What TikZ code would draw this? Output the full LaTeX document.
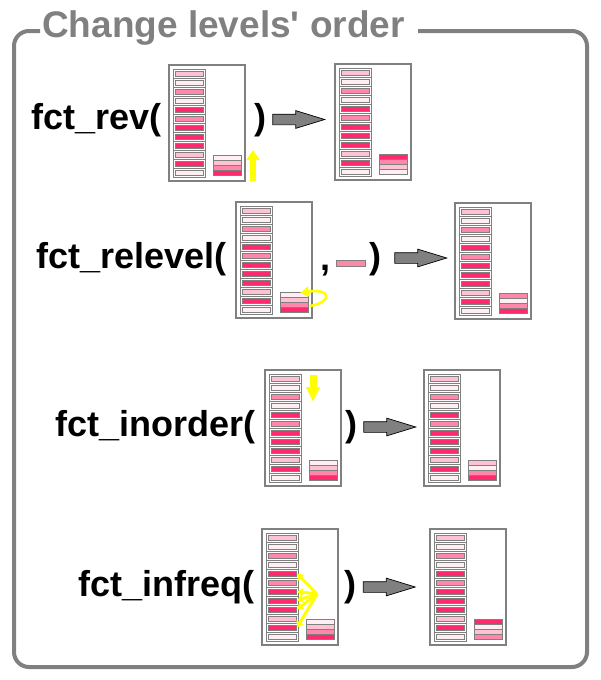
\documentclass[tikz,border=0pt]{standalone}
\usepackage{fontspec}
\setmainfont{Liberation Sans}
\usetikzlibrary{arrows.meta,shapes.arrows}
\definecolor{LevA}{HTML}{FFEEF2}
\definecolor{LevB}{HTML}{FFC2D4}
\definecolor{LevC}{HTML}{FF88AA}
\definecolor{LevD}{HTML}{FF2A6E}
\definecolor{FrameGray}{HTML}{808080}
\definecolor{HiYellow}{HTML}{FFFF00}
\tikzset{>=Stealth,fname/.style={font=\bfseries\fontsize{36}{40}\selectfont,inner sep=0,
 anchor=base west},fbox/.style={draw=FrameGray,line width=1.5,minimum width=76,
 minimum height=116,inner sep=0},cell/.style={draw=FrameGray,line width=0.8},
 garrow/.style={single arrow,draw=black,line width=0.7,fill=FrameGray,minimum height=52,
 inner sep=0,inner ysep=5,single arrow head extend=3.5,single arrow tip angle=34},
 yarrow/.style={draw=HiYellow,line width=#1}}
% one factor box: name, top-left corner, order of the level key
\newcommand\FactorBox[3]{\begin{scope}[shift={#2}]
 \node[fbox] (#1) at (38,58) {};
 \foreach \lv [count=\k from 0] in {B,A,C,A,D,C,D,D,D,B,D,A}{
  \draw[cell,fill=white] (4.3,4+9*\k) rectangle ++(32.4,9);
  \draw[cell,fill=Lev\lv] (6.3,6+9*\k) rectangle ++(28.4,5);}
 \foreach \lv [count=\k from 0] in {#3}
  \draw[cell,fill=Lev\lv] (44.3,90+5*\k) rectangle ++(28.4,5);
 \end{scope}}

\begin{document}
\begin{tikzpicture}[x=1pt,y=-1pt]
\useasboundingbox (0,0) rectangle (600,680);
\draw[FrameGray,line width=4,rounded corners=15] (40,31) -| (14,667) -| (587,31) -- (418,31);
\node[fname,text=FrameGray,font=\bfseries\fontsize{37}{40}\selectfont] (title) at (42,37) {Change levels\textquotesingle{} order};
% fct_rev
\node[fname] (rev) at (31,129) {fct\_rev(};
\FactorBox{rev in}{(169,65)}{A,B,C,D}
\node[fname] (rev close) at (254,129) {)};
\draw[yarrow=6,-{Triangle[width=13,length=10]}] (253,181) coordinate (rev from) -- (253,150) coordinate (rev to);
\node[garrow] (rev arrow) at (290,119.5) {};
\FactorBox{rev out}{(335,64)}{D,C,B,A}
% fct_relevel
\node[fname] (relevel) at (36,268.5) {fct\_relevel(};
\FactorBox{relevel in}{(236,202)}{A,B,C,D}
\draw[yarrow=2.5,-{Triangle[width=10,length=9]}] (310,306) coordinate (relevel from)
 .. controls (333,302) and (331,288) .. (300,293) coordinate (relevel to);
\node[fname] (comma) at (320,270) {,};
\node[cell,fill=LevC,minimum width=29,minimum height=6,inner sep=0] (lvl) at (350.5,263) {};
\node[fname] (relevel close) at (369,268.5) {)};
\node[garrow] (relevel arrow) at (412,258) {};
\FactorBox{relevel out}{(455,203)}{C,A,C,D}
% fct_inorder
\node[fname] (inorder) at (55,436.5) {fct\_inorder(};
\FactorBox{inorder in}{(265,370)}{A,B,C,D}
\draw[yarrow=7,-{Triangle[width=13,length=15]}] (313,375) coordinate (inorder from) -- (313,402) coordinate (inorder to);
\node[fname] (inorder close) at (345,436.5) {)};
\node[garrow] (inorder arrow) at (381,427) {};
\FactorBox{inorder out}{(424,370)}{B,A,C,D}
% fct_infreq
\node[fname] (infreq) at (78,596.5) {fct\_infreq(};
\FactorBox{infreq in}{(262,529)}{A,B,C,D}
\coordinate (fan) at (317,594);
\foreach \yy in {573.5,591.5,600.5,609.5,627.5}
 \draw[yarrow=3,-{Triangle[width=8,length=6]}] (fan) -- (297,\yy);
\node[fname] (infreq close) at (344,596.5) {)};
\node[garrow] (infreq arrow) at (380.5,587) {};
\FactorBox{infreq out}{(430,529)}{D,A,B,C}
\end{tikzpicture}
\end{document}
